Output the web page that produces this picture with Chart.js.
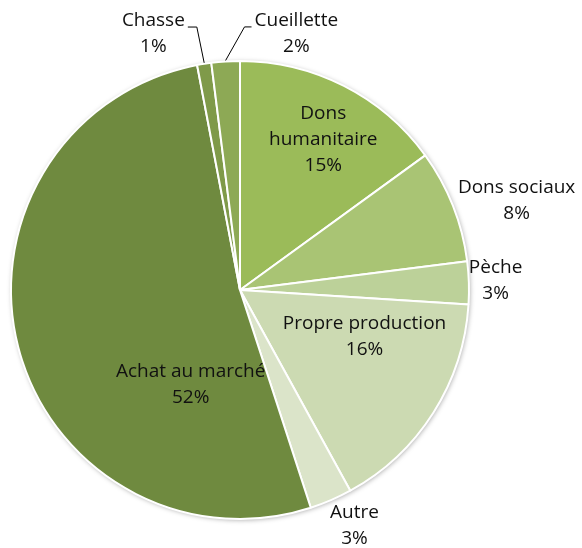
<!DOCTYPE html>
<html>
<head>
<meta charset="utf-8">
<script src="https://cdn.jsdelivr.net/npm/chart.js@4/dist/chart.umd.min.js"></script>
<style>
  html, body { margin: 0; padding: 0; background: #ffffff; }
  #wrap { width: 582px; height: 548px; position: relative; }
</style>
</head>
<body>
<div id="wrap"><canvas id="pie"></canvas></div>
<script>
// Sources d'approvisionnement (part en %)
const categories = [
  'Dons humanitaire', 'Dons sociaux', 'Pèche', 'Propre production',
  'Autre', 'Achat au marché', 'Chasse', 'Cueillette'
];
const shares = [15, 8, 3, 16, 3, 52, 1, 2];
const sliceColors = [
  '#9BBB59', '#A9C474', '#BCD199', '#CCDAB2',
  '#DBE4C9', '#6F8A3F', '#7F9A49', '#8DA955'
];
// Label text lines (name split where it wraps)
const labelLines = [
  ['Dons', 'humanitaire'], ['Dons sociaux'], ['Pèche'], ['Propre production'],
  ['Autre'], ['Achat au marché'], ['Chasse'], ['Cueillette']
];
// Label anchor: angle shift from slice middle (deg) and distance as share of radius
const labelPlacement = [
  [2, 0.75], [3.6, 1.27], [-0.4, 1.117], [-12, 0.58],
  [-2.5, 1.145], [-48, 0.465], [-9.7, 1.18], [16, 1.145]
];
// Slices that get a leader line from the label to the rim
const leaderSide = [null, null, null, null, null, null, 'right', 'left'];

const FONT = '19px "Open Sans", Lato, sans-serif';
const LINE_H = 26;

const pieShadow = {
  id: 'pieShadow',
  beforeDatasetsDraw(chart) {
    const arc = chart.getDatasetMeta(0).data[0];
    if (!arc) return;
    const ctx = chart.ctx;
    ctx.save();
    ctx.shadowColor = 'rgba(0,0,0,0.35)';
    ctx.shadowBlur = 5;
    ctx.shadowOffsetX = 1;
    ctx.shadowOffsetY = 1;
    ctx.fillStyle = '#ffffff';
    ctx.beginPath();
    ctx.arc(arc.x, arc.y, arc.outerRadius, 0, Math.PI * 2);
    ctx.fill();
    ctx.restore();
  }
};

const sliceLabels = {
  id: 'sliceLabels',
  afterDatasetsDraw(chart) {
    const ctx = chart.ctx;
    const meta = chart.getDatasetMeta(0);
    const total = shares.reduce((a, b) => a + b, 0);
    ctx.save();
    ctx.font = FONT;
    ctx.textAlign = 'center';
    ctx.textBaseline = 'middle';
    meta.data.forEach((arc, i) => {
      const mid = (arc.startAngle + arc.endAngle) / 2;
      const [shift, frac] = labelPlacement[i];
      const a = mid + shift * Math.PI / 180;
      const R = arc.outerRadius;
      const cx = arc.x + Math.cos(a) * R * frac;
      const cy = arc.y + Math.sin(a) * R * frac;
      const lines = labelLines[i].concat([Math.round(shares[i] / total * 100) + '%']);
      const y0 = cy - (lines.length - 1) * LINE_H / 2;
      ctx.fillStyle = '#111111';
      lines.forEach((t, k) => ctx.fillText(t, cx, y0 + k * LINE_H));

      if (leaderSide[i]) {
        const w = ctx.measureText(labelLines[i][0]).width;
        const ly = y0 + 6;
        const rimX = arc.x + Math.cos(mid) * R;
        const rimY = arc.y + Math.sin(mid) * R;
        const startX = leaderSide[i] === 'right' ? cx + w / 2 + 3 : cx - w / 2 - 3;
        const bendX = leaderSide[i] === 'right' ? startX + 9 : startX - 7;
        ctx.strokeStyle = '#000000';
        ctx.lineWidth = 1;
        ctx.beginPath();
        ctx.moveTo(startX, ly);
        ctx.lineTo(bendX, ly);
        ctx.lineTo(rimX, rimY - 1);
        ctx.stroke();
      }
    });
    ctx.restore();
  }
};

new Chart(document.getElementById('pie'), {
  type: 'pie',
  data: {
    labels: categories,
    datasets: [{
      data: shares,
      backgroundColor: sliceColors,
      borderColor: '#ffffff',
      borderWidth: 2
    }]
  },
  options: {
    responsive: true,
    maintainAspectRatio: false,
    animation: false,
    layout: { padding: { left: 10, right: 112, top: 60, bottom: 28 } },
    plugins: {
      legend: { display: false },
      tooltip: { enabled: false }
    }
  },
  plugins: [pieShadow, sliceLabels]
});
</script>
</body>
</html>
